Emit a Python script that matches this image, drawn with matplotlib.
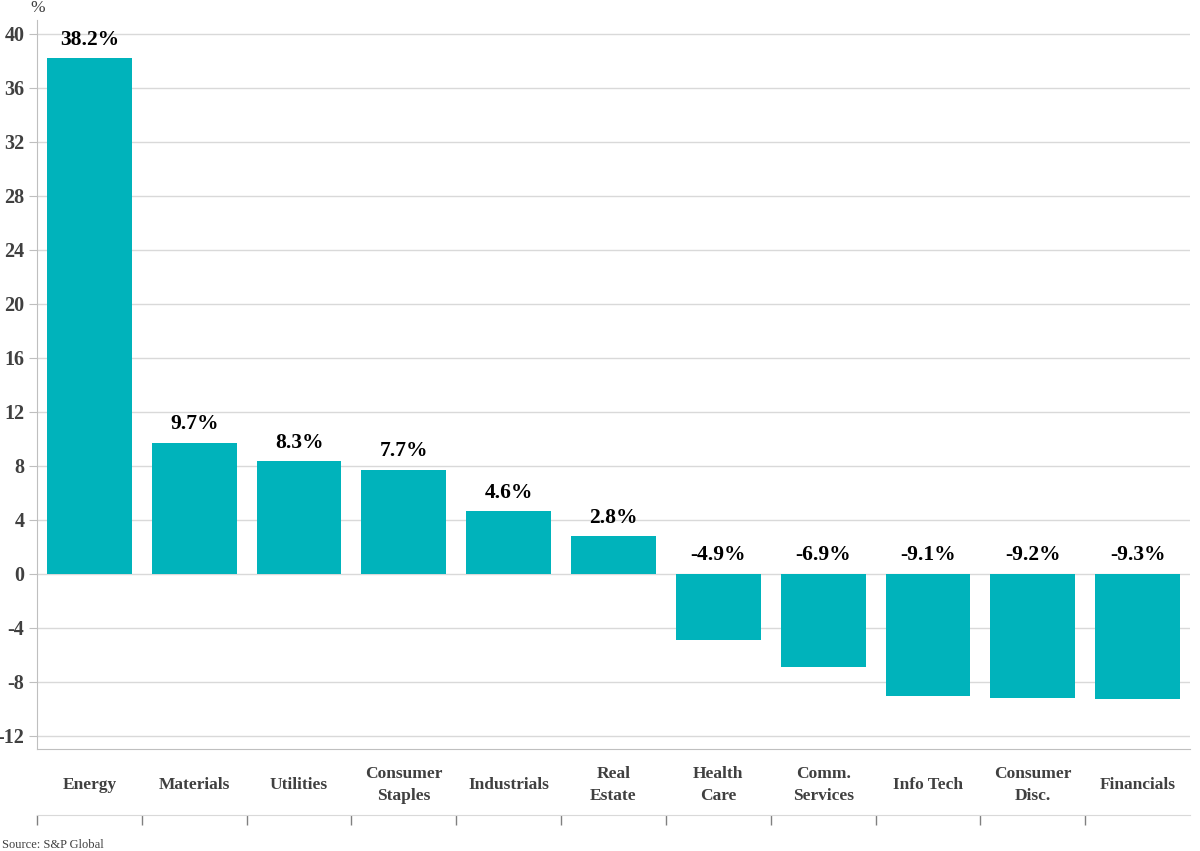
import matplotlib
matplotlib.use("Agg")
import matplotlib.pyplot as plt

categories = ["Energy", "Materials", "Utilities", "Consumer\nStaples", "Industrials",
              "Real\nEstate", "Health\nCare", "Comm.\nServices", "Info Tech",
              "Consumer\nDisc.", "Financials"]
values = [38.2, 9.7, 8.3, 7.7, 4.6, 2.8, -4.9, -6.9, -9.1, -9.2, -9.3]
yticks = [-12, -8, -4, 0, 4, 8, 12, 16, 20, 24, 28, 32, 36, 40]

plt.rcParams['font.family'] = ['Liberation Serif', 'DejaVu Serif']
bar_color = "#00B3BB"
grid_color = "#D9D9D9"
text_gray = "#404040"

fig = plt.figure(figsize=(12, 8.51), dpi=100)
ax = fig.add_axes([37/1200, 102/851, 1153/1200, 729/851])
x = list(range(len(categories)))
ax.bar(x, values, width=0.81, color=bar_color, zorder=3)
ax.set_xlim(-0.5, len(categories) - 0.5)
ax.set_ylim(-13, 41)
ax.set_yticks(yticks)
ax.set_yticklabels([str(t) for t in yticks], fontsize=14.5, fontweight='bold', color=text_gray)
ax.yaxis.grid(True, color=grid_color, linewidth=1, zorder=0)
ax.set_xticks([])
ax.tick_params(axis='y', length=6, color='#BFBFBF', pad=3)
for s in ['top', 'right']:
    ax.spines[s].set_visible(False)
ax.spines['left'].set_color('#BFBFBF')
ax.spines['bottom'].set_color('#BFBFBF')

for xi, v in zip(x, values):
    y = v if v > 0 else 0
    ax.text(xi, y + 0.6, f"{v:.1f}%", ha='center', va='bottom', fontsize=15.5,
            fontweight='bold', color='black', zorder=4)

# lower category band
ax2 = fig.add_axes([37/1200, 36/851, 1153/1200, 64/851])
ax2.set_xlim(-0.5, len(categories) - 0.5)
ax2.set_ylim(0, 1)
for s in ['top', 'right', 'left']:
    ax2.spines[s].set_visible(False)
ax2.spines['bottom'].set_color('#D9D9D9')
ax2.set_yticks([])
ax2.set_xticks([i - 0.5 for i in range(len(categories))])
ax2.set_xticklabels([])
ax2.tick_params(axis='x', length=7, color='#808080', width=1)
ax2.patch.set_alpha(0)
for xi, c in zip(x, categories):
    ax2.text(xi, 0.47, c, ha='center', va='center', fontsize=12.5, fontweight='bold',
             color=text_gray, linespacing=1.45)

fig.text(30/1200, 1 - 8/851, "%", ha='left', va='center', fontsize=12.5, color=text_gray)
fig.text(2/1200, 1 - 845/851, "Source: S&P Global", ha='left', va='center', fontsize=9,
         color=text_gray)

fig.savefig("out.png", dpi=100)
